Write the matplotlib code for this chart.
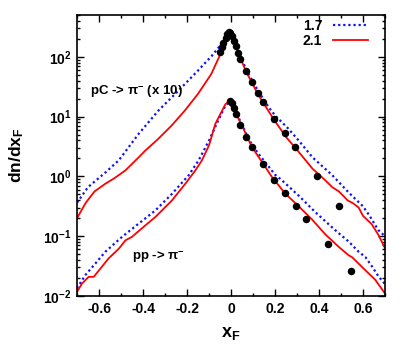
import matplotlib
matplotlib.use("Agg")
import matplotlib.pyplot as plt
from matplotlib.ticker import MultipleLocator, LogLocator, FixedLocator, FixedFormatter, NullFormatter

plt.rcParams['font.family'] = ['Liberation Sans', 'DejaVu Sans']
plt.rcParams['font.weight'] = 'bold'
plt.rcParams['mathtext.fontset'] = 'custom'
plt.rcParams['mathtext.rm'] = 'Liberation Sans:bold'
plt.rcParams['mathtext.bf'] = 'Liberation Sans:bold'
plt.rcParams['mathtext.it'] = 'Liberation Sans:bold'
plt.rcParams['mathtext.default'] = 'bf'

# pC -> pi- (x10), model 2.1 (red solid)
pc21_x = [-0.70, -0.66, -0.62, -0.57, -0.53, -0.48, -0.43, -0.39, -0.33, -0.27, -0.21, -0.15,
          -0.09, -0.055, -0.025, -0.003, 0.02, 0.045, 0.07, 0.095, 0.12, 0.145, 0.195, 0.25,
          0.31, 0.37, 0.43, 0.46, 0.49, 0.53, 0.555, 0.58, 0.60, 0.64, 0.67, 0.70]
pc21_y = [0.200, 0.363, 0.562, 0.759, 0.933, 1.26, 1.91, 2.69, 4.27, 7.08, 12.6, 24.0,
          51.3, 97.7, 178, 263, 158, 91.2, 55.0, 37.2, 24.5, 17.4, 8.91, 4.57,
          2.51, 1.35, 0.851, 0.661, 0.562, 0.398, 0.355, 0.302, 0.219, 0.158, 0.105, 0.063]

# pC -> pi- (x10), model 1.7 (blue dotted)
pc17_x = [-0.70, -0.65, -0.57, -0.51, -0.42, -0.33, -0.24, -0.15, -0.086, -0.04, -0.003,
          0.02, 0.05, 0.08, 0.12, 0.17, 0.20, 0.26, 0.31, 0.37, 0.43, 0.46, 0.535, 0.60,
          0.63, 0.67, 0.70]
pc17_y = [0.363, 0.661, 1.17, 1.86, 5.13, 12.6, 26.9, 58.9, 105, 170, 263,
          166, 87.1, 51.3, 28.2, 14.5, 10.5, 6.31, 3.89, 2.09, 1.32, 1.05, 0.537, 0.316,
          0.219, 0.126, 0.100]

# pp -> pi-, model 2.1 (red solid)
pp21_x = [-0.70, -0.677, -0.647, -0.624, -0.60, -0.556, -0.51, -0.48, -0.45, -0.39, -0.344,
          -0.268, -0.207, -0.162, -0.132, -0.10, -0.071, -0.025, -0.003, 0.008, 0.023, 0.05,
          0.095, 0.141, 0.186, 0.247, 0.308, 0.368, 0.429, 0.49, 0.535, 0.55, 0.611, 0.656, 0.70]
pp21_y = [0.0117, 0.0162, 0.0209, 0.0209, 0.0269, 0.0427, 0.0617, 0.0851, 0.0977, 0.151, 0.209,
          0.398, 0.759, 1.26, 1.86, 3.31, 7.59, 16.2, 18.6, 17.0, 11.2, 7.08,
          3.09, 1.74, 0.977, 0.513, 0.316, 0.191, 0.107, 0.0661, 0.0479, 0.0447, 0.0269, 0.0186, 0.0110]

# pp -> pi-, model 1.7 (blue dotted)
pp17_x = [-0.70, -0.662, -0.616, -0.571, -0.495, -0.42, -0.344, -0.268, -0.192, -0.147, -0.10,
          -0.06, -0.03, -0.003, 0.02, 0.05, 0.08, 0.12, 0.17, 0.20, 0.23, 0.31, 0.384, 0.459,
          0.49, 0.535, 0.58, 0.611, 0.64, 0.67, 0.70]
pp17_y = [0.0135, 0.0224, 0.0351, 0.0550, 0.0977, 0.162, 0.269, 0.513, 1.05, 1.86, 3.98,
          8.32, 14.1, 18.6, 12.0, 7.41, 4.17, 2.51, 1.48, 1.07, 0.871, 0.468, 0.251, 0.141,
          0.112, 0.0813, 0.0550, 0.0447, 0.0316, 0.0214, 0.0158]

# data points
pc_data_x = [-0.051, -0.041, -0.035, -0.025, -0.018, -0.010, -0.003, 0.005, 0.012, 0.023, 0.032,
             0.043, 0.068, 0.095, 0.121, 0.144, 0.194, 0.245, 0.293, 0.393, 0.493]
pc_data_y = [122, 147, 173, 210, 245, 264, 254, 224, 185, 153, 118,
             91.5, 57, 37.3, 24.8, 17.8, 9.1, 5.4, 3.08, 1.0, 0.32]
pp_data_x = [-0.006, 0.005, 0.014, 0.023, 0.043, 0.068, 0.094, 0.144, 0.194, 0.244, 0.294,
             0.343, 0.443, 0.544]
pp_data_y = [18.5, 16.9, 14.0, 11.1, 7.3, 4.64, 3.1, 1.63, 0.88, 0.527, 0.32,
             0.194, 0.0744, 0.0264]

legend_labels = ['1.7', '2.1']
x_ticks = [-0.6, -0.4, -0.2, 0, 0.2, 0.4, 0.6]
x_tick_labels = ['-0.6', '-0.4', '-0.2', '0', '0.2', '0.4', '0.6']
y_ticks = [1e-2, 1e-1, 1e0, 1e1, 1e2]
y_tick_labels = [r'$10^{-2}$', r'$10^{-1}$', r'$10^{0}$', r'$10^{1}$', r'$10^{2}$']

fig = plt.figure(figsize=(4.07, 3.49), dpi=100)
ax = fig.add_axes([77/407, 53/349, 308/407, 281/349])

blue = '#1010ff'
red = '#ff0000'
dot = (0, (1.0, 1.3))
l17, = ax.plot(pc17_x, pc17_y, color=blue, lw=1.6, ls=dot)
l21, = ax.plot(pc21_x, pc21_y, color=red, lw=1.3)
ax.plot(pp17_x, pp17_y, color=blue, lw=1.6, ls=dot)
ax.plot(pp21_x, pp21_y, color=red, lw=1.3)
ax.plot(pc_data_x, pc_data_y, 'o', color='black', ms=4.4, zorder=5)
ax.plot(pp_data_x, pp_data_y, 'o', color='black', ms=4.4, zorder=5)

ax.set_yscale('log')
ax.set_xlim(-0.7, 0.7)
ax.set_ylim(1e-2, 500)

ax.xaxis.set_major_locator(FixedLocator(x_ticks))
ax.xaxis.set_major_formatter(FixedFormatter(x_tick_labels))
ax.xaxis.set_minor_locator(MultipleLocator(0.1))
ax.yaxis.set_major_locator(FixedLocator(y_ticks))
ax.yaxis.set_major_formatter(FixedFormatter(y_tick_labels))
ax.yaxis.set_minor_locator(LogLocator(base=10, subs=range(2, 10), numticks=20))
ax.yaxis.set_minor_formatter(NullFormatter())

ax.tick_params(which='both', direction='in', top=True, right=True, width=1.0)
ax.tick_params(which='major', length=5, labelsize=10, pad=4)
ax.tick_params(which='minor', length=2.5)
for s in ax.spines.values():
    s.set_linewidth(1.2)

ax.set_xlabel(r'x$_{\mathbf{F}}$', fontsize=13, fontweight='bold', labelpad=7)
ax.set_ylabel(r'dn/dx$_{\mathbf{F}}$', fontsize=12.5, fontweight='bold', labelpad=12)

ax.text(-0.64, 26, r'pC -> $\mathrm{\pi}^{-}$ (x 10)', fontsize=9.5, fontweight='bold',
        va='center', ha='left')
ax.text(-0.45, 0.045, r'pp -> $\mathrm{\pi}^{-}$', fontsize=9.5, fontweight='bold',
        va='center', ha='left')

leg = ax.legend([l17, l21], legend_labels, loc='upper right', frameon=False, markerfirst=False,
                handlelength=2.5, handletextpad=0.8, borderaxespad=0.0, borderpad=0.0,
                bbox_to_anchor=(0.945, 0.985),
                labelspacing=0.05, prop={'weight': 'bold', 'size': 10})

fig.savefig('out.png', dpi=100)
